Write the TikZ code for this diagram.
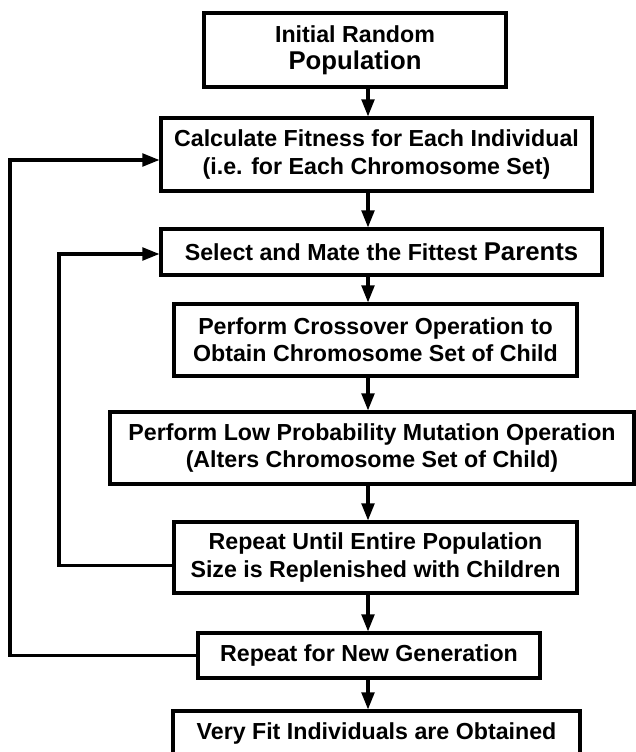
\documentclass[tikz,border=0pt]{standalone}
\usepackage{fontspec}
\setmainfont{Liberation Sans}
\usepackage{tikz}
\usetikzlibrary{arrows.meta, positioning, calc}
\newcommand{\bigword}[1]{{\fontsize{18.3}{19.4}\selectfont #1}}

\begin{document}
\begin{tikzpicture}[
    stage/.style={draw, line width=2.2pt, align=center, inner sep=0pt,
        font=\fontsize{16.5}{19.4}\selectfont\bfseries},
    flow/.style={line width=2.2pt, -{Triangle[length=4.3mm,width=3.2mm]}}
    ]
        % Frame
        \useasboundingbox (0, 0) rectangle (15.875, -18.8);

        % Stages
        \node[stage, minimum width=7.55cm, minimum height=1.85cm] (init) at (8.875, -1.25) {Initial Random\\\bigword{Population}};
        \node[stage, minimum width=10.775cm, minimum height=1.825cm] (fitness) at (9.4125, -3.8625) {Calculate Fitness for Each Individual\\(i.e. for Each Chromosome Set)};
        \node[stage, minimum width=11.025cm, minimum height=1.15cm] (select) at (9.5375, -6.3) {Select and Mate the Fittest \bigword{Parents}};
        \node[stage, minimum width=10.075cm, minimum height=1.8cm] (cross) at (9.3875, -8.5) {Perform Crossover Operation to\\Obtain Chromosome Set of Child};
        \node[stage, minimum width=13.1cm, minimum height=1.8cm] (mutate) at (9.3, -11.2) {Perform Low Probability Mutation Operation\\(Alters Chromosome Set of Child)};
        \node[stage, minimum width=10.075cm, minimum height=1.775cm] (refill) at (9.3875, -13.9375) {Repeat Until Entire Population\\Size is Replenished with Children};
        \node[stage, minimum width=8.55cm, minimum height=1.125cm] (newgen) at (9.225, -16.3875) {Repeat for New Generation};
        \node[stage, minimum width=10.175cm, minimum height=1.125cm] (result) at (9.4125, -18.3375) {Very Fit Individuals are Obtained};

        % Main line
        \coordinate (spine) at (9.2, 0);
        \draw[flow] (init.south -| spine) -- (fitness.north -| spine);
        \draw[flow] (fitness.south -| spine) -- (select.north -| spine);
        \draw[flow] (select.south -| spine) -- (cross.north -| spine);
        \draw[flow] (cross.south -| spine) -- (mutate.north -| spine);
        \draw[flow] (mutate.south -| spine) -- (refill.north -| spine);
        \draw[flow] (refill.south -| spine) -- (newgen.north -| spine);
        \draw[flow] (newgen.south -| spine) -- (result.north -| spine);

        % Loops back
        \coordinate (outer) at (0.25, -4.0);
        \coordinate (inner) at (1.475, -6.35);
        \draw[flow] (newgen.west) -| (outer) -- (outer -| fitness.west);
        \draw[flow] ([yshift=-0.19cm]refill.west) -| (inner) -- (inner -| select.west);
    \end{tikzpicture}
\end{document}
